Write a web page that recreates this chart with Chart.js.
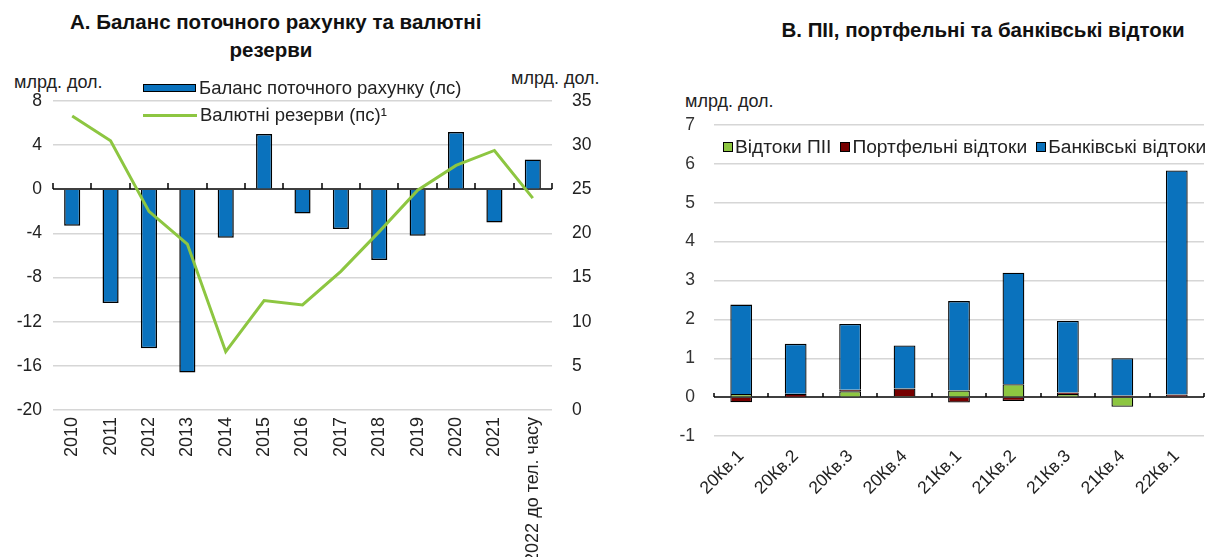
<!DOCTYPE html>
<html>
<head>
<meta charset="utf-8">
<script src="https://cdn.jsdelivr.net/npm/chart.js@4/dist/chart.umd.min.js"></script>
<style>
  html,body{margin:0;padding:0;background:#fff;}
  body{width:1209px;height:557px;position:relative;overflow:hidden;font-family:'Liberation Sans',Arial,sans-serif;color:#1a1a1a;}
  .abs{position:absolute;white-space:nowrap;}
  .title{font-weight:bold;font-size:20.5px;line-height:28px;text-align:center;color:#111;}
  .unit{font-size:18px;line-height:20px;color:#222;}
  .leg{font-size:18.5px;line-height:20px;color:#222;}
</style>
</head>
<body>
<script>
// ---------- DATA ----------
const years = ['2010','2011','2012','2013','2014','2015','2016','2017','2018','2019','2020','2021','2022 до тел. часу'];
const currentAccount = [-3.3,-10.3,-14.4,-16.6,-4.4,5.0,-2.2,-3.6,-6.4,-4.2,5.2,-3.0,2.7];
const reserves = [33.3,30.5,22.5,18.8,6.6,12.4,11.9,15.7,20.2,24.9,27.7,29.4,24.0];
const leftAxisTicks = [-20,-16,-12,-8,-4,0,4,8];
const rightAxisTicks = [0,5,10,15,20,25,30,35];

const quarters = ['20Кв.1','20Кв.2','20Кв.3','20Кв.4','21Кв.1','21Кв.2','21Кв.3','21Кв.4','22Кв.1'];
const fdiOutflows = [0.08,0.01,0.15,0.02,0.17,0.33,0.08,-0.25,0.00];
const portfolioOutflows = [-0.13,0.08,0.04,0.20,-0.14,-0.10,0.04,0.04,0.07];
const bankOutflows = [2.30,1.28,1.69,1.11,2.30,2.87,1.84,0.96,5.76];
const bAxisTicks = [-1,0,1,2,3,4,5,6,7];

const titleA = ['А. Баланс поточного рахунку та валютні','резерви'];
const titleB = 'В. ПІІ, портфельні та банківські відтоки';
const unitLabel = 'млрд. дол.';
const seriesA = ['Баланс поточного рахунку (лс)','Валютні резерви (пс)¹'];
const seriesB = ['Відтоки ПІІ','Портфельні відтоки','Банківські відтоки'];

const BLUE = '#0A72BD', GREEN = '#8DC641', DARKRED = '#760000';
</script>

<div class="abs title" style="left:70px;top:8px;width:402px;" id="tA"></div>
<div class="abs title" style="left:683px;top:16px;width:600px;" id="tB"></div>
<div class="abs unit" style="left:14px;top:72px;" id="uA1"></div>
<div class="abs unit" style="left:511px;top:68px;" id="uA2"></div>
<div class="abs unit" style="left:685px;top:91px;" id="uB"></div>

<div class="abs" style="left:0;top:0;width:610px;height:557px;"><canvas id="c1" width="610" height="557"></canvas></div>
<div class="abs" style="left:610px;top:0;width:599px;height:557px;"><canvas id="c2" width="599" height="557"></canvas></div>

<div class="abs leg" id="legA" style="left:143px;top:78px;"></div>
<div class="abs leg" id="legB" style="left:723px;top:137px;display:flex;align-items:center;font-size:19.2px;"></div>

<script>
document.getElementById('tA').innerHTML = titleA.join('<br>');
document.getElementById('tB').textContent = titleB;
['uA1','uA2','uB'].forEach(id=>document.getElementById(id).textContent = unitLabel);

// legend A
(function(){
  const el = document.getElementById('legA');
  el.innerHTML =
   '<div style="display:flex;align-items:center;height:20px;"><span style="display:inline-block;width:51px;height:6px;background:'+BLUE+';border:1.5px solid #000;margin-right:3px;"></span><span>'+seriesA[0]+'</span></div>'+
   '<div style="display:flex;align-items:center;height:20px;margin-top:7px;"><span style="display:inline-block;width:54px;height:3px;background:'+GREEN+';margin-right:3px;"></span><span>'+seriesA[1]+'</span></div>';
})();
// legend B
(function(){
  const el = document.getElementById('legB');
  const cols = [GREEN, DARKRED, BLUE];
  el.innerHTML = seriesB.map((s,i)=>'<span style="display:inline-block;width:8px;height:8px;background:'+cols[i]+';border:1px solid #000;margin-right:2px;"></span><span style="margin-right:9px;">'+s+'</span>').join('');
})();

Chart.defaults.font.family = "'Liberation Sans', Arial, sans-serif";
Chart.defaults.color = '#222';
Chart.defaults.animation = false;

function zeroAxisPlugin(scaleId, tickUp){
  return {
    id:'zeroAxis'+scaleId,
    beforeDatasetsDraw(chart){
      const ctx = chart.ctx, x = chart.scales.x, y = chart.scales[scaleId];
      const y0 = Math.round(y.getPixelForValue(0));
      const n = chart.data.labels.length;
      ctx.save();
      ctx.strokeStyle = '#000';
      ctx.lineWidth = 1.5;
      ctx.beginPath();
      ctx.moveTo(x.left, y0); ctx.lineTo(x.right, y0);
      for(let i=0;i<=n;i++){
        const px = Math.round(x.left + i*(x.width/n));
        ctx.moveTo(px, y0); ctx.lineTo(px, y0 - tickUp);
      }
      ctx.stroke();
      ctx.restore();
    }
  };
}

const gridColor = c => (c.tick && c.tick.value === 0) ? 'rgba(0,0,0,0)' : '#d6d6d6';

// ---------- Chart A ----------
new Chart(document.getElementById('c1'), {
  data:{
    labels: years,
    datasets:[
      {type:'line', label:seriesA[1], data:reserves, yAxisID:'y2', borderColor:GREEN, borderWidth:3, pointRadius:0, tension:0, order:1},
      {type:'bar', label:seriesA[0], data:currentAccount, yAxisID:'y', backgroundColor:BLUE, borderColor:'#000', borderWidth:1.5, categoryPercentage:1, barPercentage:0.42, order:2}
    ]
  },
  options:{
    responsive:false,
    layout:{padding:{top:101,left:0,right:0,bottom:0}},
    plugins:{legend:{display:false}, tooltip:{enabled:false}},
    scales:{
      x:{
        grid:{display:false, drawTicks:false}, border:{display:false},
        ticks:{minRotation:90, maxRotation:90, padding:7, font:{size:18}, color:'#222', autoSkip:false},
        afterFit(s){ s.height = 147; }
      },
      y:{
        position:'left', min:-20, max:8,
        afterBuildTicks(s){ s.ticks = leftAxisTicks.map(v=>({value:v})); },
        grid:{color:gridColor, lineWidth:1.5, drawTicks:false}, border:{display:false},
        ticks:{padding:11, font:{size:17.5}, color:'#222'},
        afterFit(s){ s.width = 53; }
      },
      y2:{
        position:'right', min:0, max:35,
        afterBuildTicks(s){ s.ticks = rightAxisTicks.map(v=>({value:v})); },
        grid:{display:false, drawTicks:false}, border:{display:false},
        ticks:{padding:20, font:{size:17.5}, color:'#222'},
        afterFit(s){ s.width = 58; }
      }
    }
  },
  plugins:[zeroAxisPlugin('y', 6)]
});

// ---------- Chart B ----------
new Chart(document.getElementById('c2'), {
  type:'bar',
  data:{
    labels: quarters,
    datasets:[
      {label:seriesB[0], data:fdiOutflows, backgroundColor:GREEN, borderColor:'#000', borderWidth:1.3},
      {label:seriesB[1], data:portfolioOutflows, backgroundColor:DARKRED, borderColor:'#000', borderWidth:1.3},
      {label:seriesB[2], data:bankOutflows, backgroundColor:BLUE, borderColor:'#000', borderWidth:1.3}
    ]
  },
  options:{
    responsive:false,
    layout:{padding:{top:125,left:0,right:5,bottom:0}},
    datasets:{bar:{categoryPercentage:1, barPercentage:0.4}},
    plugins:{legend:{display:false}, tooltip:{enabled:false}},
    scales:{
      x:{
        stacked:true,
        grid:{display:false, drawTicks:false}, border:{display:false},
        ticks:{minRotation:45, maxRotation:45, padding:10, font:{size:17.5}, color:'#222', autoSkip:false},
        afterFit(s){ s.height = 121; }
      },
      y:{
        stacked:true, min:-1, max:7,
        afterBuildTicks(s){ s.ticks = bAxisTicks.map(v=>({value:v})); },
        grid:{color:gridColor, lineWidth:1.5, drawTicks:false}, border:{display:false},
        ticks:{padding:19, font:{size:17.5}, color:'#333'},
        afterFit(s){ s.width = 104; }
      }
    }
  },
  plugins:[zeroAxisPlugin('y', 4)]
});
</script>
</body>
</html>
